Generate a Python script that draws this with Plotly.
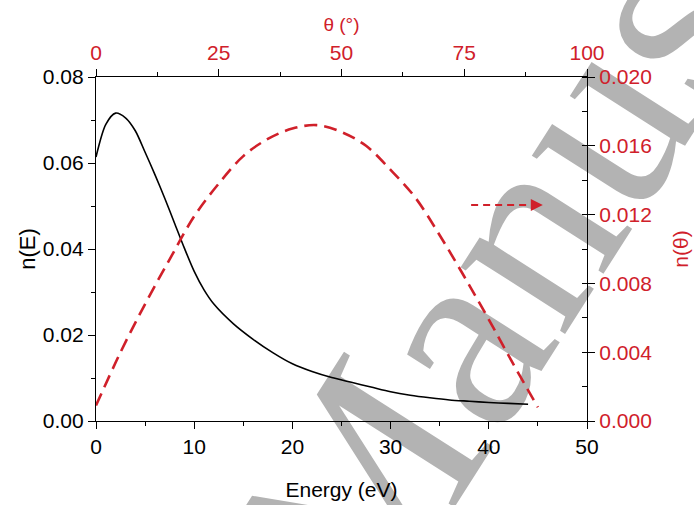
import plotly.graph_objects as go

# Energy distribution n(E)
energy = [0, 1, 2, 3, 4, 5, 6, 7, 8, 9, 10, 11, 12, 14, 16, 18, 20, 22, 24, 26, 28, 30, 32, 34, 36, 38, 40, 42, 44]
n_energy = [0.0614, 0.0690, 0.0716, 0.0705, 0.0675, 0.0625, 0.0573, 0.0518, 0.0460, 0.0402, 0.0348,
            0.0305, 0.0272, 0.0226, 0.0190, 0.0159, 0.0133, 0.0115, 0.0101, 0.0090, 0.0079, 0.0068, 0.0060,
            0.0054, 0.0049, 0.0046, 0.0043, 0.0041, 0.0039]

# Angular distribution n(theta)
theta = [0, 5, 10, 15, 20, 25, 30, 35, 40, 45, 50, 55, 60, 65, 70, 75, 80, 85, 90]
n_theta = [0.0009, 0.0040, 0.0068, 0.0094, 0.0119, 0.0138, 0.0154, 0.0164, 0.0170, 0.0172,
           0.0168, 0.0160, 0.0146, 0.0130, 0.0108, 0.0084, 0.0059, 0.0033, 0.0008]

# arrow pointing to the right axis
arrow_theta = [76.4, 89.0]
arrow_tip_theta = 91.0
arrow_n = 0.01256

x_ticks = [0, 10, 20, 30, 40, 50]
y_ticks = [0.00, 0.02, 0.04, 0.06, 0.08]
x2_ticks = [0, 25, 50, 75, 100]
y2_ticks = [0.000, 0.004, 0.008, 0.012, 0.016, 0.020]

RED = "#d0202a"
FONT = "Liberation Sans, Arial, sans-serif"

fig = go.Figure()
fig.add_trace(go.Scatter(x=energy, y=n_energy, mode="lines", line=dict(color="black", width=1.6, shape="spline", smoothing=0.8),
                         xaxis="x", yaxis="y", showlegend=False))
fig.add_trace(go.Scatter(x=theta, y=n_theta, mode="lines",
                         line=dict(color=RED, width=2.6, dash="13px,7px", shape="spline"),
                         xaxis="x2", yaxis="y2", showlegend=False))
fig.add_trace(go.Scatter(x=arrow_theta, y=[arrow_n, arrow_n], mode="lines",
                         line=dict(color=RED, width=2, dash="7px,5px"),
                         xaxis="x2", yaxis="y2", showlegend=False))
fig.add_annotation(x=arrow_tip_theta, y=arrow_n, ax=arrow_theta[1], ay=arrow_n, xref="x2", yref="y2",
                   axref="x2", ayref="y2", text="", showarrow=True, arrowhead=2, arrowsize=1.2,
                   arrowwidth=2, arrowcolor=RED)

# watermark behind the data
fig.add_shape(type="line", xref="paper", yref="paper", x0=0.56, y0=0.02, x1=0.94, y1=0.87,
              line=dict(color="rgba(0,0,0,0)", width=0), layer="below",
              label=dict(text="Manus", textposition="middle", font=dict(family="Liberation Serif, Times New Roman, serif",
                                                                        size=270, color="#b3b3b3"),
                         yanchor="middle", padding=0))

axis_common = dict(showline=True, linecolor="black", linewidth=1.3, showgrid=False, zeroline=False,
                   ticks="outside", tickcolor="black", ticklen=7, tickwidth=1.3, automargin=False)

fig.update_layout(
    width=694, height=505,
    margin=dict(l=96, r=107, t=77, b=84),
    paper_bgcolor="white", plot_bgcolor="rgba(0,0,0,0)",
    font=dict(family=FONT, size=21, color="black"),
    xaxis=dict(range=[0, 50], tickvals=x_ticks, ticktext=[str(v) for v in x_ticks],
               minor=dict(dtick=5, ticks="outside", ticklen=4, tickcolor="black", tickwidth=1.3),
               title=dict(text="Energy (eV)", standoff=24, font=dict(size=21)),
               tickfont=dict(size=21), anchor="y", **axis_common),
    yaxis=dict(range=[0, 0.08], tickvals=y_ticks, ticktext=[f"{v:.2f}" for v in y_ticks],
               minor=dict(dtick=0.01, ticks="outside", ticklen=4, tickcolor="black", tickwidth=1.3),
               title=dict(text="n(E)", standoff=1, font=dict(size=22)),
               tickfont=dict(size=21), anchor="x", **axis_common),
    xaxis2=dict(range=[0, 100], tickvals=x2_ticks, ticktext=[str(v) for v in x2_ticks],
                minor=dict(dtick=12.5, ticks="outside", ticklen=4, tickcolor="black", tickwidth=1.3),
                title=dict(text="θ (°)", standoff=4, font=dict(size=19, color=RED)),
                tickfont=dict(size=21, color=RED), side="top", overlaying="x", anchor="y", **axis_common),
    yaxis2=dict(range=[0, 0.020], tickvals=y2_ticks, ticktext=[f"{v:.3f}" for v in y2_ticks],
                minor=dict(dtick=0.002, ticks="inside", ticklen=5, tickcolor="black", tickwidth=1.3),
                title=dict(text="n(θ)", standoff=22, font=dict(size=21, color=RED)),
                tickfont=dict(size=21, color=RED), side="right", overlaying="y", anchor="x", **axis_common),
)

fig.write_html("out.html")
